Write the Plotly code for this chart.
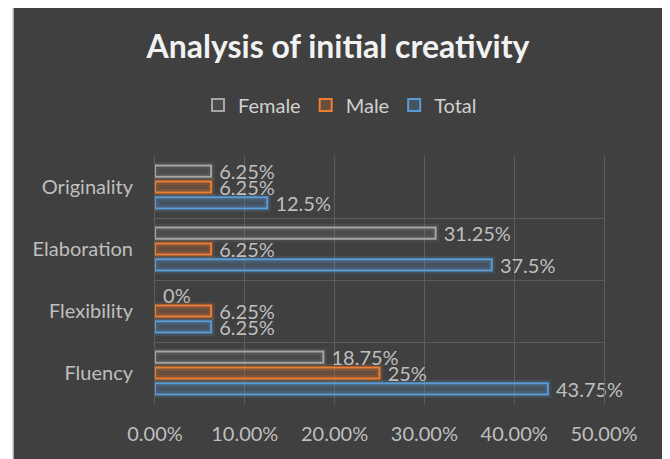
import plotly.graph_objects as go

categories = ["Fluency", "Flexibility", "Elaboration", "Originality"]
female = [0.1875, 0.0, 0.3125, 0.0625]
male = [0.25, 0.0625, 0.0625, 0.0625]
total = [0.4375, 0.0625, 0.375, 0.125]
female_labels = ["18.75%", "0%", "31.25%", "6.25%"]
male_labels = ["25%", "6.25%", "6.25%", "6.25%"]
total_labels = ["43.75%", "6.25%", "37.5%", "12.5%"]
x_ticks = [0, 0.1, 0.2, 0.3, 0.4, 0.5]
x_tick_labels = ["0.00%", "10.00%", "20.00%", "30.00%", "40.00%", "50.00%"]

FONT = "Lato"
LABEL_COLOR = "#bfbfbf"

series = [
    ("Total", total, total_labels, "#5b9bd5", "rgba(91,155,213,0.22)", "rgba(91,155,213,0.16)"),
    ("Male", male, male_labels, "#ed7d31", "rgba(237,125,49,0.22)", "rgba(237,125,49,0.16)"),
    ("Female", female, female_labels, "#a5a5a5", "rgba(165,165,165,0.10)", "rgba(165,165,165,0.10)"),
]

fig = go.Figure()
for name, vals, labs, line_c, fill_c, glow_c in series:
    glow_w = [7 if v > 0 else 0 for v in vals]
    line_w = [2 if v > 0 else 0 for v in vals]
    # soft glow behind each bar
    fig.add_trace(go.Bar(
        name=name, y=categories, x=vals, orientation="h", offsetgroup=name,
        marker=dict(color="rgba(0,0,0,0)", line=dict(color=glow_c, width=glow_w)),
        showlegend=False, hoverinfo="skip",
    ))
    fig.add_trace(go.Bar(
        name=name, y=categories, x=vals, orientation="h", offsetgroup=name,
        marker=dict(color=fill_c, line=dict(color=line_c, width=line_w)),
        text=["\u00a0" + s for s in labs], textposition="outside", constraintext="none",
        textfont=dict(family=FONT, size=20, color=LABEL_COLOR),
        cliponaxis=False,
    ))

# page pixel geometry (page has an 8px body margin)
OFF = 8
W, H = 670, 459
PL, PR, PT, PB = 155, 604, 156, 404
L, T = PL - OFF, PT - OFF
pw, ph = PR - PL, PB - PT
R, B = W - L - pw, H - T - ph

def px_x(p):
    return (p - PL) / pw

def px_y(p):
    return (PB - p) / ph

fig.add_shape(type="rect", xref="paper", yref="paper",
              x0=px_x(13), x1=px_x(663), y0=px_y(470), y1=px_y(6),
              fillcolor="#404040", line=dict(color="#d0d0d0", width=1.5),
              layer="below")

fig.update_layout(
    width=W, height=H,
    margin=dict(l=L, r=R, t=T, b=B),
    paper_bgcolor="white",
    plot_bgcolor="rgba(0,0,0,0)",
    barmode="group",
    bargap=0.23,
    bargroupgap=0.3,
    title=dict(text="<b>Analysis of initial creativity</b>",
               x=px_x(338), xref="paper", xanchor="center",
               y=1 - (47 - OFF) / H, yref="container", yanchor="middle",
               font=dict(family=FONT, size=32, color="#f2f2f2")),
    legend=dict(orientation="h", traceorder="reversed",
                x=px_x(340), xref="paper", xanchor="center",
                y=px_y(105), yanchor="middle",
                font=dict(family=FONT, size=20, color="#d0d0d0"),
                bgcolor="rgba(0,0,0,0)", itemwidth=30),
    showlegend=True,
    font=dict(family=FONT, color=LABEL_COLOR),
)

fig.update_xaxes(range=[0, 0.5], tickvals=x_ticks, ticktext=x_tick_labels,
                 showgrid=True, gridcolor="#5c5c5c", gridwidth=1,
                 zeroline=False, showline=False,
                 ticks="", ticklabelstandoff=16,
                 tickfont=dict(family=FONT, size=20, color=LABEL_COLOR))
fig.update_yaxes(type="category", categoryorder="array", categoryarray=categories,
                 tickson="boundaries", showgrid=True, gridcolor="#5c5c5c", gridwidth=1,
                 showline=True, linecolor="#5c5c5c", mirror=True,
                 ticks="", ticklabelstandoff=17,
                 tickfont=dict(family=FONT, size=20, color=LABEL_COLOR))

fig.write_html("out.html")
